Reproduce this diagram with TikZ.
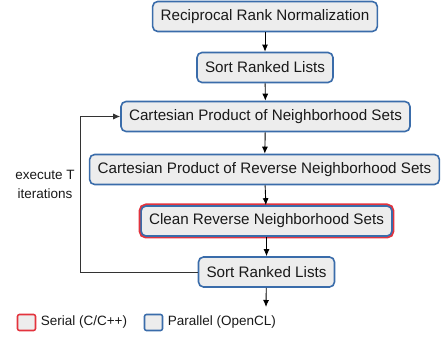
\documentclass[tikz,border=0pt]{standalone}
\usepackage{fontspec}
\setmainfont{Liberation Sans}
\usepackage{tikz}
\usetikzlibrary{arrows.meta,calc,positioning}
\definecolor{boxblue}{HTML}{3A6CAA}
\definecolor{boxred}{HTML}{E3333D}
\definecolor{boxfill}{HTML}{EDEDED}
\begin{document}
\begin{tikzpicture}[x=1pt, y=-1pt, >={Latex[length=7pt,width=6pt]}, font=\fontsize{15.2}{18}\selectfont]
   \useasboundingbox (0,0) rectangle (442,339);
   \begin{scope}[every node/.style={draw=boxblue,fill=boxfill,rounded corners=5pt,line width=1.6pt,minimum height=30pt,inner xsep=8pt,text=black!90}]
    \node (rrn) at (265,16.5) {Reciprocal Rank Normalization};
    \node (sort1) at (265,67.5) {Sort Ranked Lists};
    \node (cpn) at (265.5,116.5) {Cartesian Product of Neighborhood Sets};
    \node (cprn) at (264.5,169.5) {Cartesian Product of Reverse Neighborhood Sets};
    \node (clean) [preaction={draw=boxred,line width=5pt}] at (266.5,221) {Clean Reverse Neighborhood Sets};
    \node (sort2) at (266.5,272) {Sort Ranked Lists};
   \end{scope}
   \node (iter) [align=center, font=\fontsize{13.5}{19}\selectfont, text=black!90] at (45,184) {execute T\\iterations};
   \coordinate (out) at (266,307);
   \begin{scope}[->, line width=0.9pt]
    \draw (rrn) -- (sort1);
    \draw (sort1) -- (cpn);
    \draw (cpn) -- (cprn);
    \draw (cprn) -- (clean);
    \draw (clean) -- (sort2);
    \draw (sort2) -- (out);
    \draw[black!80] (sort2.west) -- ++(-117,0) |- (cpn.west);
   \end{scope}
   \begin{scope}[every node/.style={font=\fontsize{13.5}{16}\selectfont, text=black!90}]
    \node (serial) [draw=boxred, fill=boxfill, line width=1.6pt, rounded corners=2pt, minimum width=18pt, minimum height=16pt] at (26.5,322.5) {};
    \node (seriallbl) [right=1pt of serial] {Serial (C/C++)};
    \node (parallel) [draw=boxblue, fill=boxfill, line width=1.6pt, rounded corners=2pt, minimum width=18pt, minimum height=16pt] at (153.5,322.5) {};
    \node (parallellbl) [right=1pt of parallel] {Parallel (OpenCL)};
   \end{scope}
\end{tikzpicture}
\end{document}
